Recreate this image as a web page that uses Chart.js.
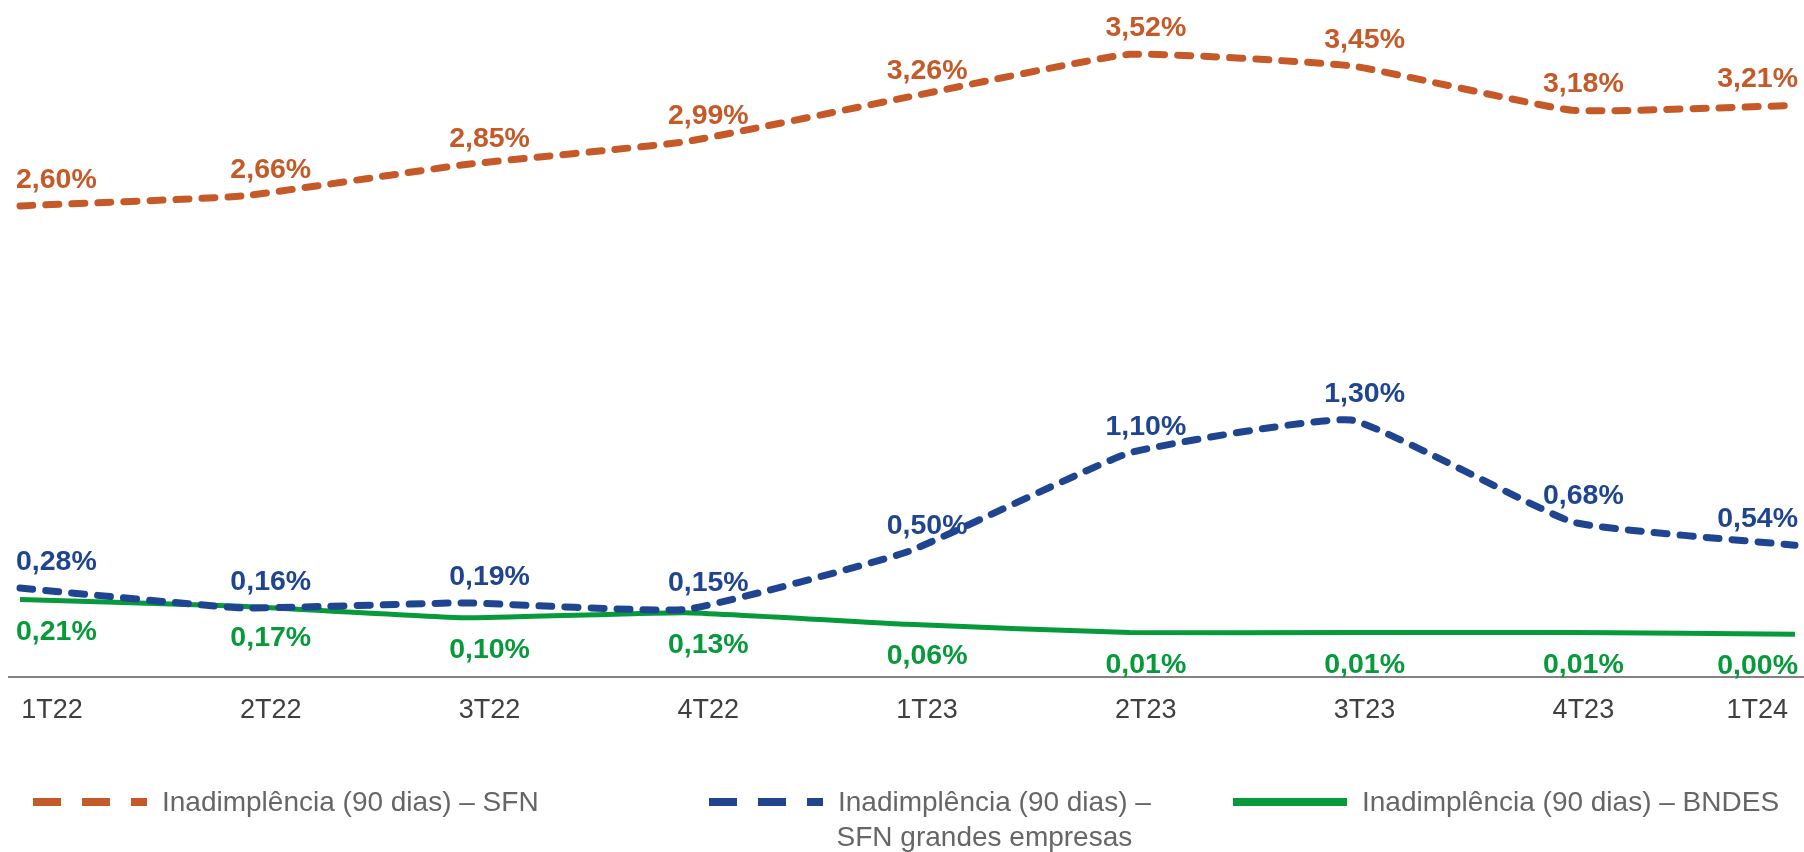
<!DOCTYPE html>
<html>
<head>
<meta charset="utf-8">
<script src="https://cdn.jsdelivr.net/npm/chart.js@4"></script>
<style>
  html, body { margin: 0; padding: 0; background: #fff; }
  #wrap { width: 1804px; height: 852px; }
</style>
</head>
<body>
<div id="wrap"><canvas id="inadChart" width="1804" height="852"></canvas></div>
<script>
// dados
var categories = ['1T22', '2T22', '3T22', '4T22', '1T23', '2T23', '3T23', '4T23', '1T24'];
var sfn = [2.60, 2.66, 2.85, 2.99, 3.26, 3.52, 3.45, 3.18, 3.21];
var sfnGrandes = [0.28, 0.16, 0.19, 0.15, 0.50, 1.10, 1.30, 0.68, 0.54];
var bndes = [0.21, 0.17, 0.10, 0.13, 0.06, 0.01, 0.01, 0.01, 0.00];
var seriesNames = [
    ['Inadimplência (90 dias) – SFN'],
    ['Inadimplência (90 dias) –', 'SFN grandes empresas'],
    ['Inadimplência (90 dias) – BNDES']
];

var FONT = '"Liberation Sans", Arial, Helvetica, sans-serif';
var ORANGE = '#C55A28';
var BLUE = '#1F4591';
var GREEN = '#069A3A';

function fmt(v) {
    return v.toFixed(2).replace('.', ',') + '%';
}

// posição horizontal dos rótulos (levemente à direita do ponto, sem sair da tela)
function labelX(chart, px, w, marginRight) {
    var left = chart.chartArea.left;
    var x = left + 32 + (px - left) * 0.986;
    var minX = w / 2 + 16;
    var maxX = chart.width - w / 2 - marginRight;
    return Math.max(minX, Math.min(maxX, x));
}

var customDraw = {
    id: 'customDraw',
    beforeDatasetsDraw: function(chart) {
        var ctx = chart.ctx;
        var area = chart.chartArea;
        ctx.save();
        // linha do eixo
        ctx.strokeStyle = '#595959';
        ctx.lineWidth = 1.5;
        ctx.beginPath();
        ctx.moveTo(8, area.bottom);
        ctx.lineTo(chart.width, area.bottom);
        ctx.stroke();
        // rótulos do eixo x
        var xs = chart.scales.x;
        ctx.font = '27px ' + FONT;
        ctx.fillStyle = '#404040';
        ctx.textAlign = 'center';
        ctx.textBaseline = 'alphabetic';
        categories.forEach(function(c, i) {
            var w = ctx.measureText(c).width;
            var x = labelX(chart, xs.getPixelForValue(i), w, 16);
            ctx.fillText(c, x, area.bottom + 41);
        });
        ctx.restore();
    },
    afterDatasetsDraw: function(chart) {
        var ctx = chart.ctx;
        ctx.save();
        ctx.font = 'bold 28.5px ' + FONT;
        ctx.textAlign = 'center';
        ctx.textBaseline = 'alphabetic';
        chart.data.datasets.forEach(function(ds, di) {
            var meta = chart.getDatasetMeta(di);
            ctx.fillStyle = ds.borderColor;
            meta.data.forEach(function(pt, i) {
                var txt = fmt(ds.data[i]);
                var w = ctx.measureText(txt).width;
                var x = labelX(chart, pt.x, w, 6);
                var y = ds.labelBelow ? pt.y + 40 : pt.y - 18;
                ctx.fillText(txt, x, y);
            });
        });
        ctx.restore();
    },
    afterDraw: function(chart) {
        // legenda
        var ctx = chart.ctx;
        var itemX = [33, 709, 1233];
        var lineY = 802;
        ctx.save();
        chart.data.datasets.forEach(function(ds, di) {
            var x0 = itemX[di];
            ctx.strokeStyle = ds.borderColor;
            ctx.lineWidth = 8;
            ctx.lineCap = 'butt';
            ctx.setLineDash(ds.borderDash && ds.borderDash.length ? [28, 21] : []);
            ctx.beginPath();
            ctx.moveTo(x0, lineY);
            ctx.lineTo(x0 + 114, lineY);
            ctx.stroke();
            ctx.setLineDash([]);

            var lines = seriesNames[di];
            ctx.font = '28px ' + FONT;
            ctx.fillStyle = '#666666';
            ctx.textBaseline = 'alphabetic';
            var tx = x0 + 129;
            ctx.textAlign = 'left';
            ctx.fillText(lines[0], tx, 811);
            if (lines.length > 1) {
                var w0 = ctx.measureText(lines[0]).width;
                ctx.textAlign = 'center';
                ctx.fillText(lines[1], tx + w0 / 2 - 10, 846);
            }
        });
        ctx.restore();
    }
};

var ctxInad = document.getElementById('inadChart').getContext('2d');
var inadChart = new Chart(ctxInad, {
    type: 'line',
    data: {
        labels: categories,
        datasets: [{
            label: seriesNames[0].join(' '),
            data: sfn,
            borderColor: ORANGE,
            borderWidth: 7,
            borderDash: [13, 13],
            borderCapStyle: 'round',
            pointRadius: 0,
            tension: 0.12,
            clip: false
        }, {
            label: seriesNames[1].join(' '),
            data: sfnGrandes,
            borderColor: BLUE,
            borderWidth: 7,
            borderDash: [13, 13],
            borderCapStyle: 'round',
            pointRadius: 0,
            tension: 0.12,
            clip: false
        }, {
            label: seriesNames[2].join(' '),
            data: bndes,
            borderColor: GREEN,
            borderWidth: 5,
            borderDash: [],
            pointRadius: 0,
            tension: 0.12,
            labelBelow: true,
            clip: false
        }]
    },
    options: {
        responsive: false,
        animation: false,
        events: [],
        layout: {
            padding: { left: 20, right: 9, top: 0, bottom: 175 }
        },
        scales: {
            x: { display: false },
            y: { display: false, min: -0.26, max: 3.85 }
        },
        plugins: {
            legend: { display: false },
            tooltip: { enabled: false }
        }
    },
    plugins: [customDraw]
});
</script>
</body>
</html>
